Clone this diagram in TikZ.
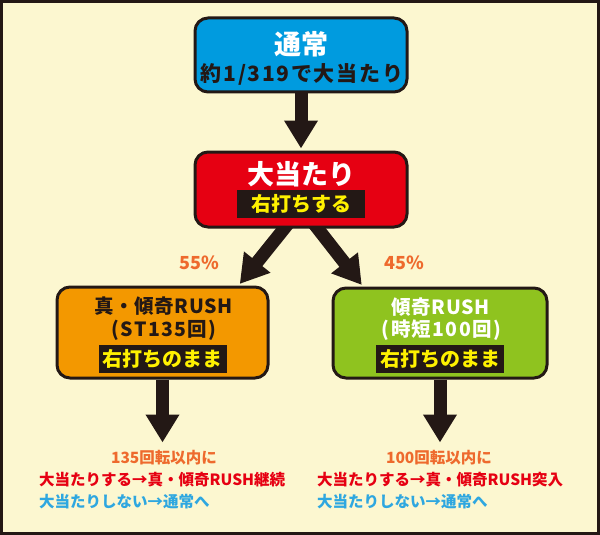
\documentclass[tikz,border=0pt]{standalone}
\usepackage{fontspec}
\setmainfont{Noto Sans CJK JP}
\usetikzlibrary{shapes, arrows.meta, positioning}
\pgfdeclarelayer{back}
\pgfsetlayers{back,main}
\definecolor{ink}{HTML}{231815}
\definecolor{paper}{HTML}{FCF7D0}
\definecolor{tsujoblue}{HTML}{009BDF}
\definecolor{hitred}{HTML}{E60012}
\definecolor{shinorange}{HTML}{F39800}
\definecolor{kabukigreen}{HTML}{8FC31F}
\definecolor{rateorange}{HTML}{EE6A2D}
\definecolor{textred}{HTML}{E60012}
\definecolor{textblue}{HTML}{2EA7E0}
\definecolor{plateyellow}{HTML}{FFF100}
\tikzstyle{modebox} = [rectangle, rounded corners=13pt, minimum width=212pt, minimum height=75pt, draw=ink, line width=3pt]
\tikzstyle{title} = [inner sep=0pt, text=white, font=\bfseries\fontsize{27}{27}\selectfont]
\tikzstyle{subtitle} = [inner sep=0pt, text=ink, font=\bfseries\fontsize{19.5}{19.5}\selectfont\addfontfeature{LetterSpace=5}]
\tikzstyle{plate} = [rectangle, fill=ink, text=plateyellow, minimum width=128pt, minimum height=28pt, inner sep=0pt, font=\bfseries\fontsize{20}{20}\selectfont]
\tikzstyle{rate} = [inner sep=0pt, text=rateorange, font=\bfseries\fontsize{18}{18}\selectfont]
\tikzstyle{note} = [inner sep=0pt, font=\bfseries\fontsize{15.5}{15.5}\selectfont]
\tikzstyle{edge} = [line width=13pt, draw=ink, -{Triangle[length=28pt, width=32pt]}]

\begin{document}
\begin{tikzpicture}[x=1pt, y=-1pt, node distance=135pt]

\useasboundingbox (0,0) rectangle (600,535);
\begin{pgfonlayer}{back}
\draw [fill=paper, draw=ink, line width=3pt] (1.5,1.5) rectangle (598.5,533.5);
\end{pgfonlayer}

% boxes
\node (tsujo) [modebox, fill=tsujoblue, minimum height=74pt] at (301,55) {};
\node (oatari) [modebox, fill=hitred, below of=tsujo, yshift=0.5pt] {};
\node (shinrush) [modebox, fill=shinorange, minimum width=211pt, minimum height=91pt, below of=oatari, xshift=-138.5pt, yshift=-8pt] {};
\node (kabukirush) [modebox, fill=kabukigreen, minimum width=214pt, minimum height=90pt, below of=oatari, xshift=139pt, yshift=-8.5pt] {};

% texts in the boxes
\node (tsujoname) [title] at ([yshift=10.5pt]tsujo.center) {通常};
\node (tsujoprob) [subtitle, font=\bfseries\fontsize{21}{21}\selectfont\addfontfeature{LetterSpace=8}] at ([xshift=1pt, yshift=-19pt]tsujo.center) {約1/319で大当たり};
\node (oatariname) [title] at ([yshift=15pt]oatari.center) {大当たり};
\node (oatariplate) [plate] at ([yshift=-14.5pt]oatari.center) {右打ちする};
\node (shinname) [subtitle, font=\bfseries\fontsize{19.5}{19.5}\selectfont\addfontfeature{LetterSpace=3}] at ([xshift=1pt, yshift=26pt]shinrush.center) {真・傾奇RUSH};
\node (shinst) [subtitle, font=\bfseries\fontsize{19.5}{19.5}\selectfont\addfontfeature{LetterSpace=7}] at ([xshift=1.5pt, yshift=2.5pt]shinrush.center) {(ST135回)};
\node (shinplate) [plate] at ([yshift=-26pt]shinrush.center) {右打ちのまま};
\node (kabukiname) [subtitle, text=white, font=\bfseries\fontsize{19.5}{19.5}\selectfont\addfontfeature{LetterSpace=3}] at ([xshift=0.5pt, yshift=26pt]kabukirush.center) {傾奇RUSH};
\node (kabukijitan) [subtitle, text=white, font=\bfseries\fontsize{19.5}{19.5}\selectfont\addfontfeature{LetterSpace=7}] at ([xshift=1.5pt, yshift=3pt]kabukirush.center) {(時短100回)};
\node (kabukiplate) [plate] at ([yshift=-25.5pt]kabukirush.center) {右打ちのまま};

% rates
\node (shinrate) [rate] at (199,263) {55\%};
\node (kabukirate) [rate] at (404,263) {45\%};

% notes
\coordinate (shinend) at ([yshift=-63pt]shinrush.south);
\coordinate (kabukiend) at ([yshift=-63pt]kabukirush.south);
\node (shinnote) [note, text=rateorange] at (164,458) {135回転以内に};
\node (shinwin) [note, text=textred, anchor=west] at (39,480) {大当たりする→真・傾奇RUSH継続};
\node (shinlose) [note, text=textblue, anchor=west] at (39,502) {大当たりしない→通常へ};
\node (kabukinote) [note, text=rateorange] at (439,458) {100回転以内に};
\node (kabukiwin) [note, text=textred, anchor=west] at (317,480) {大当たりする→真・傾奇RUSH突入};
\node (kabukilose) [note, text=textblue, anchor=west] at (317,502) {大当たりしない→通常へ};

\begin{pgfonlayer}{back}
\draw [edge, shorten >=2pt] (tsujo) -- (oatari);
\draw [edge, shorten >=2pt] ([xshift=-12pt, yshift=6pt]oatari.south) -- ([xshift=76pt]shinrush.north);
\draw [edge, shorten >=2pt] ([xshift=12pt, yshift=6pt]oatari.south) -- ([xshift=-77pt]kabukirush.north);
\draw [edge] (shinrush.south) -- (shinend);
\draw [edge] (kabukirush.south) -- (kabukiend);
\end{pgfonlayer}

\end{tikzpicture}
\end{document}
